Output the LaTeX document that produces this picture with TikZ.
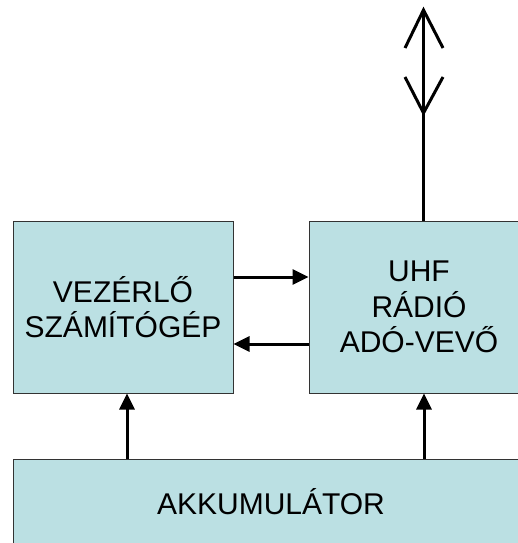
\documentclass[tikz,border=0pt]{standalone}
\usepackage{fontspec}
\setmainfont{Liberation Sans}
\usetikzlibrary{arrows.meta}
\definecolor{boxfill}{HTML}{BBE0E3}
\definecolor{boxline}{HTML}{333333}
\begin{document}
\begin{tikzpicture}[x=1pt,y=-1pt,
  blockbox/.style={draw=boxline,line width=1pt,fill=boxfill,inner sep=0pt,
    align=center,font=\fontsize{30}{35.5}\selectfont},
  arr/.style={line width=3pt,-{Triangle[length=16pt,width=15pt]}},
  antline/.style={line width=3pt}]
\useasboundingbox (0,0) rectangle (518,543);
\begin{scope}
\clip (0,0) rectangle (518,543);
\node[blockbox,minimum width=220pt,minimum height=172pt] (ctrl) at (123,307) {VEZÉRLŐ\\SZÁMÍTÓGÉP};
\node[blockbox,minimum width=220pt,minimum height=172pt] (uhf) at (419,307) {UHF\\RÁDIÓ\\ADÓ-VEVŐ};
\node[blockbox,minimum width=516pt,minimum height=86pt] (acc) at (271,502) {AKKUMULÁTOR};
\end{scope}
\draw[arr] ([yshift=30pt]ctrl.east) -- ([yshift=30pt]ctrl.east -| uhf.west);
\draw[arr] ([yshift=-37pt]uhf.west) -- ([yshift=-37pt]uhf.west -| ctrl.east);
\draw[arr] ([xshift=4pt]ctrl.south |- acc.north) -- ([xshift=4pt]ctrl.south);
\draw[arr] ([xshift=5pt]uhf.south |- acc.north) -- ([xshift=5pt]uhf.south);
\coordinate (anttop) at (423.5,10);
\coordinate (antlow) at (423.5,113);
\draw[antline] (anttop |- uhf.north) -- (anttop);
\draw[antline] ([shift={(-18.5,38)}]anttop) -- (anttop) -- ([shift={(19.5,38)}]anttop);
\draw[antline] ([shift={(-18.5,-36)}]antlow) -- (antlow) -- ([shift={(19.5,-36)}]antlow);
\end{tikzpicture}
\end{document}
